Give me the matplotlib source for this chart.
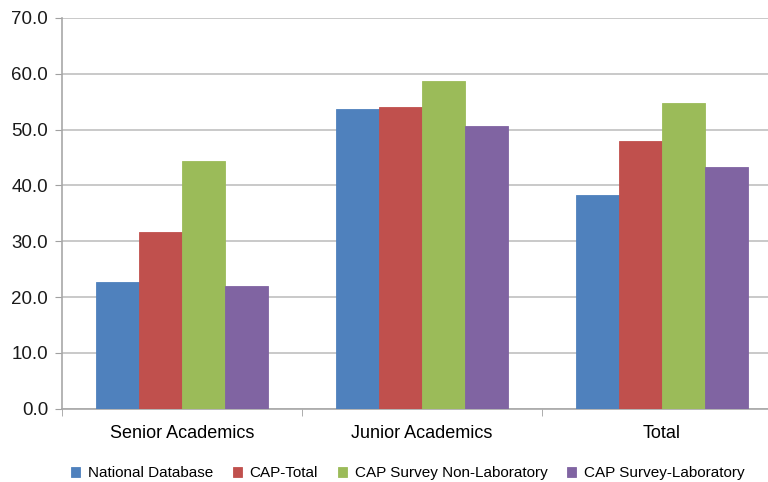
import matplotlib.pyplot as plt
import numpy as np

plt.rcParams['font.family'] = ['Liberation Sans', 'DejaVu Sans']

groups = ["Senior Academics", "Junior Academics", "Total"]
series_names = ["National Database", "CAP-Total", "CAP Survey Non-Laboratory", "CAP Survey-Laboratory"]
national_db = [22.7, 53.7, 38.3]
cap_total = [31.6, 54.0, 48.0]
cap_non_lab = [44.3, 58.8, 54.8]
cap_lab = [21.9, 50.7, 43.3]
colors = ["#4F81BD", "#C0504D", "#9BBB59", "#8064A2"]

fig = plt.figure(figsize=(7.68, 4.82), dpi=100)
ax = fig.add_axes([62 / 768, 1 - 408.7 / 482, 1 - 62 / 768, (408.7 - 18) / 482])

x = np.arange(len(groups))
bar_w = 0.18
all_series = [national_db, cap_total, cap_non_lab, cap_lab]
for i, (vals, name, col) in enumerate(zip(all_series, series_names, colors)):
    ax.bar(x + (i - 1.5) * bar_w, vals, width=bar_w, color=col, label=name,
           edgecolor=col, linewidth=0.6, zorder=3)

ax.set_ylim(0, 70)
ax.set_yticks(np.arange(0, 71, 10))
ax.set_yticklabels([f"{v:.1f}" for v in np.arange(0, 71, 10)], fontsize=13.5)
ax.set_xlim(-0.5, -0.5 + (768 - 62) / 240)

# category labels centered, tick marks between the groups
ax.set_xticks(x)
ax.set_xticklabels(groups, fontsize=13)
ax.tick_params(axis='x', length=0, pad=12)
ax.set_xticks([-0.5, 0.5, 1.5], minor=True)
ax.tick_params(axis='x', which='minor', length=5, color='#a0a0a0')
ax.tick_params(axis='y', length=5, color='#a0a0a0', pad=5, labelcolor='#1a1a1a')

ax.yaxis.grid(True, color='#c0c0c0', linewidth=1.2, zorder=0)
for side in ['top', 'right']:
    ax.spines[side].set_visible(False)
for side in ['left', 'bottom']:
    ax.spines[side].set_color('#a8a8a8')
    ax.spines[side].set_linewidth(1.2)

fig.legend(loc='center', bbox_to_anchor=(0.531, 0.018), ncol=4, frameon=False,
           fontsize=11, handlelength=0.6, handleheight=0.6, handletextpad=0.5,
           columnspacing=1.3)

fig.savefig("out.png", dpi=100)
